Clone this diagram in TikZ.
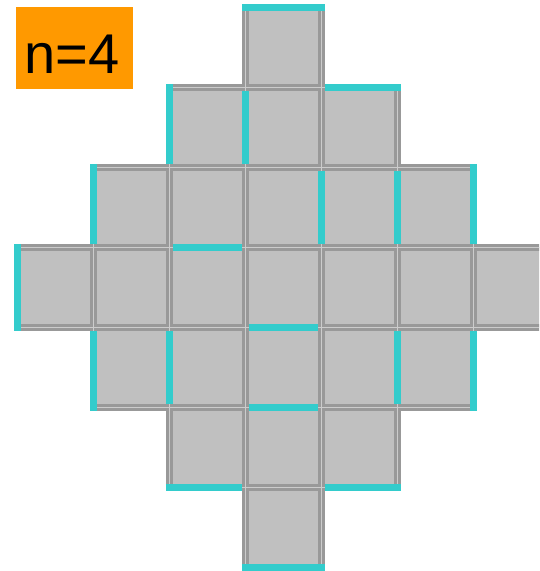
\documentclass[tikz,border=0pt]{standalone}
\usepackage{fontspec}
\setmainfont{Liberation Sans}
\definecolor{cellfill}{HTML}{C0C0C0}
\definecolor{edgedark}{HTML}{999999}
\definecolor{edgelight}{HTML}{CCCCCC}
\definecolor{mark}{HTML}{33CCCC}
\definecolor{tag}{HTML}{FF9900}
\tikzset{
  cellbox/.style={fill=cellfill},
  gridline/.style={draw=edgedark, line width=3pt, double=edgelight, double distance=0.9pt, line join=miter},
  cyanline/.style={draw=mark, line width=7pt, line cap=butt},
  tagbox/.style={fill=tag, inner sep=0pt, minimum width=117pt, minimum height=82pt},
}
\begin{document}
\begin{tikzpicture}[x=1pt,y=-1pt]
\useasboundingbox (0,0) rectangle (539,571);
\clip (0,0) rectangle (539,571);
% cells
\foreach \r/\a/\b in {0/3/3,1/2/4,2/1/5,3/0/6,4/1/5,5/2/4,6/3/3}{
  \foreach \c in {\a,...,\b}{
    \fill[cellbox] ({17.3+76*\c},{7.3+80*\r}) rectangle ++(76,80);
  }
}
% grid edges
\draw[gridline]
  \foreach \r/\a/\b in {0/3/3,1/2/4,2/1/5,3/0/6,4/1/5,5/2/4,6/3/3}{
    \foreach \c in {\a,...,\b}{
      ({17.3+76*\c},{7.3+80*\r}) rectangle ++(76,80)
    }
  };
% highlighted edges: horizontal
\draw[cyanline] (241.8,7.3) -- (324.8,7.3);
\draw[cyanline] (324.8,87.3) -- (400.8,87.3);
\draw[cyanline] (172.8,247.3) -- (241.8,247.3);
\draw[cyanline] (248.8,327.3) -- (317.8,327.3);
\draw[cyanline] (248.8,407.3) -- (317.8,407.3);
\draw[cyanline] (165.8,487.3) -- (241.8,487.3);
\draw[cyanline] (324.8,487.3) -- (400.8,487.3);
\draw[cyanline] (241.8,567.3) -- (324.8,567.3);
% highlighted edges: vertical
\draw[cyanline] (169.3,83.8) -- (169.3,163.8);
\draw[cyanline] (245.3,90.8) -- (245.3,163.8);
\draw[cyanline] (93.3,163.8) -- (93.3,243.8);
\draw[cyanline] (321.3,170.8) -- (321.3,243.8);
\draw[cyanline] (397.3,170.8) -- (397.3,243.8);
\draw[cyanline] (473.3,163.8) -- (473.3,243.8);
\draw[cyanline] (17.3,243.8) -- (17.3,330.8);
\draw[cyanline] (93.3,330.8) -- (93.3,410.8);
\draw[cyanline] (169.3,330.8) -- (169.3,403.8);
\draw[cyanline] (397.3,330.8) -- (397.3,403.8);
\draw[cyanline] (473.3,330.8) -- (473.3,410.8);
% label
\node[tagbox] (tag) at (74.5,48) {};
\node[anchor=base, inner sep=0pt] (tagtext) at (72,73) {\fontsize{56}{60}\selectfont n=4};
\end{tikzpicture}
\end{document}
